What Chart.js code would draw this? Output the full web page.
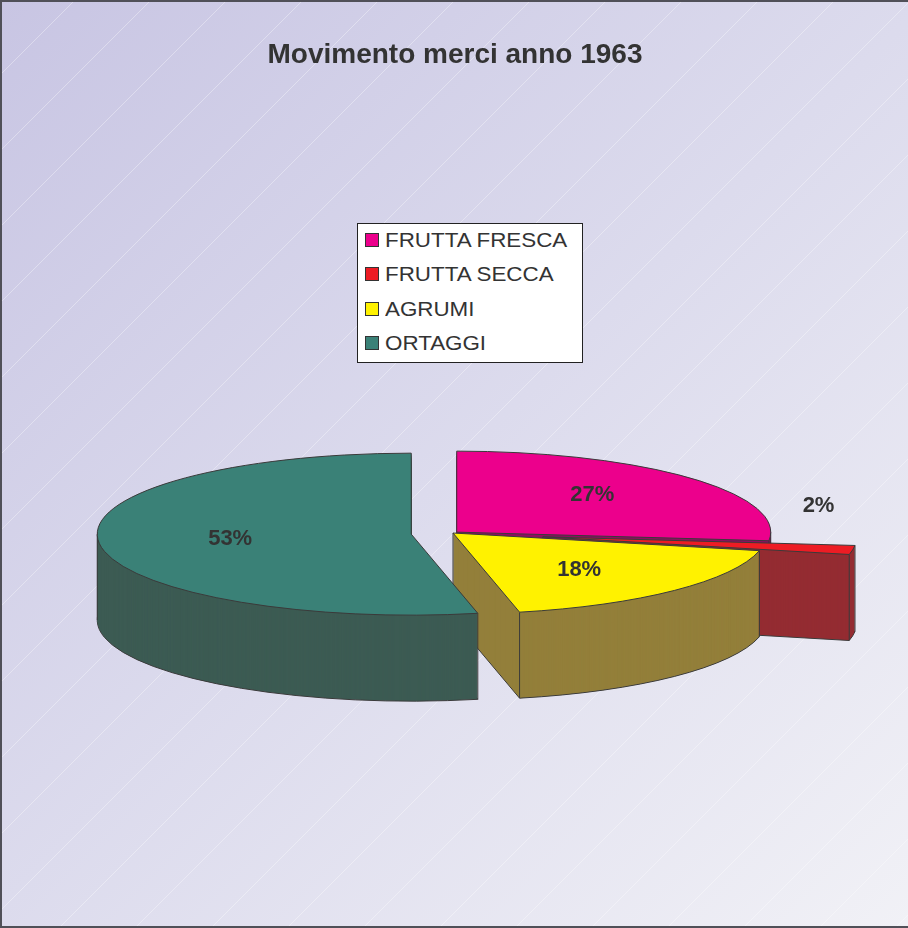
<!DOCTYPE html>
<html lang="it">
  <head>
    <meta charset="UTF-8" />
    <title>Movimento merci anno 1963</title>
    <style>
      body {
        margin: 0;
        background: #ffffff;
      }
      .wrap {
        position: relative;
        width: 908px;
        height: 928px;
      }
      canvas {
        position: absolute;
        left: 0;
        top: 0;
      }
      #legend {
        position: absolute;
        left: 357px;
        top: 223px;
        width: 226px;
        height: 140px;
        background: #ffffff;
        border: 1px solid #222222;
        box-sizing: border-box;
        font-family: Arial, "Liberation Sans", sans-serif;
        color: #333333;
      }
      .item {
        position: absolute;
        left: 7px;
        height: 20px;
        display: flex;
        align-items: center;
      }
      .sw {
        width: 14px;
        height: 14px;
        border: 1px solid #333333;
        box-sizing: border-box;
        margin-right: 6px;
      }
      .txt {
        font-size: 21px;
        display: inline-block;
        white-space: nowrap;
        transform: scaleX(1.065);
        transform-origin: left center;
      }
    </style>
    <script src="https://cdn.jsdelivr.net/npm/chart.js"></script>
  </head>
  <body>
    <div class="wrap">
      <canvas id="pieChart" width="908" height="928"></canvas>
      <div id="legend"></div>
    </div>

    <script>
      // data
      const TITLE = "Movimento merci anno 1963";
      const categories = ["FRUTTA FRESCA", "FRUTTA SECCA", "AGRUMI", "ORTAGGI"];
      const shares = [26.7, 1.8, 18.1, 53.4];

      // look of the 3d pie
      const topColors = ["#EC008C", "#ED1C24", "#FFF200", "#3A8177"];
      const sideColors = ["#8E1060", "#942C32", "#937F3A", "#3C5B53"];
      const explode = [5, 91, 0, 42]; // pixels along each slice's bisector
      const labelPos = [[0.58, -6], [0.89, -43], [0.57, 4], [0.58, 0]];
      const PIE = { cx: 453, cy: 533, rx: 314, ry: 81, depth: 86 };
      const drawOrder = [0, 1, 2, 3]; // back to front
      const EDGE = "#3a3a3a";

      // legend box
      const legendBox = document.getElementById("legend");
      categories.forEach(function (name, i) {
        const row = document.createElement("div");
        row.className = "item";
        row.style.top = 6 + i * 34.4 + "px";
        row.innerHTML =
          '<span class="sw" style="background:' + topColors[i] + '"></span>' +
          '<span class="txt">' + name + "</span>";
        legendBox.appendChild(row);
      });

      const pie3d = {
        id: "pie3d",
        beforeDraw(chart) {
          const ctx = chart.ctx;
          const w = chart.width, h = chart.height;
          ctx.save();
          const g = ctx.createLinearGradient(0, 0, w, h);
          g.addColorStop(0, "#C8C5E3");
          g.addColorStop(0.5, "#DCDBED");
          g.addColorStop(1, "#F1F1F6");
          ctx.fillStyle = g;
          ctx.fillRect(0, 0, w, h);
          // faint diagonal stripes
          ctx.strokeStyle = "rgba(255,255,255,0.35)";
          ctx.lineWidth = 1;
          for (let c = 75; c < w + h; c += 76) {
            ctx.beginPath();
            ctx.moveTo(c, 0);
            ctx.lineTo(c - h, h);
            ctx.stroke();
          }
          ctx.fillStyle = "#505058";
          ctx.fillRect(0, 0, 2, h);
          ctx.fillRect(0, 0, w, 2);
          ctx.fillRect(0, h - 2, w, 2);
          ctx.restore();
        },
        beforeDatasetsDraw(chart) {
          const ctx = chart.ctx;
          const meta = chart.getDatasetMeta(0);
          const values = chart.data.datasets[0].data;
          const total = values.reduce((a, b) => a + b, 0);
          const base = ctx.getTransform();
          const D = PIE.depth;

          // slice outline of the library's arc, squashed into an ellipse
          function slicePath(arc, i, lift) {
            const r = arc.outerRadius;
            const sx = PIE.rx / r, sy = PIE.ry / r;
            const mid = (arc.startAngle + arc.endAngle) / 2;
            const e = explode[i] / sx;
            ctx.setTransform(base);
            ctx.translate(PIE.cx, PIE.cy + lift);
            ctx.scale(sx, sy);
            ctx.translate(-arc.x + Math.cos(mid) * e, -arc.y + Math.sin(mid) * e);
            ctx.beginPath();
            ctx.moveTo(arc.x, arc.y);
            ctx.arc(arc.x, arc.y, r, arc.startAngle, arc.endAngle);
            ctx.closePath();
            ctx.setTransform(base);
          }
          function toScreen(arc, i, ang, frac) {
            const mid = (arc.startAngle + arc.endAngle) / 2;
            return {
              x: PIE.cx + Math.cos(mid) * explode[i] + Math.cos(ang) * frac * PIE.rx,
              y: PIE.cy + (Math.sin(mid) * explode[i] * PIE.ry) / PIE.rx + Math.sin(ang) * frac * PIE.ry
            };
          }
          function vEdge(p) {
            ctx.beginPath();
            ctx.moveTo(p.x, p.y);
            ctx.lineTo(p.x, p.y + D);
            ctx.stroke();
          }

          ctx.save();
          ctx.lineJoin = "round";
          ctx.strokeStyle = EDGE;
          ctx.lineWidth = 1;
          drawOrder.forEach(function (i) {
            const arc = meta.data[i];
            const a0 = arc.startAngle, a1 = arc.endAngle;
            // side walls
            ctx.fillStyle = sideColors[i];
            slicePath(arc, i, D);
            ctx.fill();
            ctx.stroke();
            for (let s = D - 1; s >= 1; s--) {
              slicePath(arc, i, s);
              ctx.fill();
            }
            // visible vertical edges
            [a0, a1].forEach(function (a) {
              if (Math.sin(a) > 0) vEdge(toScreen(arc, i, a, 1));
            });
            [0, Math.PI, 2 * Math.PI].forEach(function (a) {
              if (a > a0 && a < a1) vEdge(toScreen(arc, i, a, 1));
            });
            if (!(Math.PI / 2 > a0 && Math.PI / 2 < a1)) vEdge(toScreen(arc, i, 0, 0));
            // top face
            ctx.fillStyle = topColors[i];
            slicePath(arc, i, 0);
            ctx.fill();
            ctx.stroke();
          });

          // percentage labels
          ctx.fillStyle = "#333333";
          ctx.font = 'bold 22px Arial, "Liberation Sans", sans-serif';
          ctx.textAlign = "center";
          ctx.textBaseline = "middle";
          meta.data.forEach(function (arc, i) {
            const mid = (arc.startAngle + arc.endAngle) / 2;
            const p = toScreen(arc, i, mid, labelPos[i][0]);
            ctx.fillText(Math.round((values[i] / total) * 100) + "%", p.x, p.y + labelPos[i][1]);
          });
          ctx.restore();
          return false;
        }
      };

      new Chart(document.getElementById("pieChart"), {
        type: "pie",
        data: {
          labels: categories,
          datasets: [
            {
              data: shares,
              backgroundColor: topColors,
              borderWidth: 0
            }
          ]
        },
        options: {
          responsive: false,
          animation: false,
          layout: { padding: { left: 2, right: 0, top: 0, bottom: 0 } },
          plugins: {
            legend: { display: false },
            tooltip: { enabled: false },
            title: {
              display: true,
              text: TITLE,
              color: "#333333",
              font: { family: 'Arial, "Liberation Sans", sans-serif', size: 28, weight: "bold" },
              padding: { top: 38, bottom: 10 }
            }
          }
        },
        plugins: [pie3d]
      });
    </script>
  </body>
</html>
